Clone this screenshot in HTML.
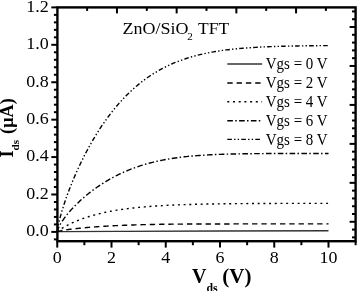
<!DOCTYPE html>
<html><head><meta charset="utf-8"><style>
html,body{margin:0;padding:0;background:#fff;}
body{width:357px;height:291px;overflow:hidden;}
svg{display:block;will-change:transform;font-family:"Liberation Serif",serif;}
</style></head><body>
<svg width="357" height="291" viewBox="0 0 357 291">
<rect width="357" height="291" fill="#fff"/>
<rect x="57.4" y="7.4" width="298.20000000000005" height="233.79999999999998" fill="none" stroke="#000" stroke-width="2.4"/>
<line x1="53.90" y1="239.38" x2="57.40" y2="239.38" stroke="#000" stroke-width="2.0"/>
<line x1="51.30" y1="231.90" x2="57.40" y2="231.90" stroke="#000" stroke-width="2.0"/>
<line x1="53.90" y1="224.42" x2="57.40" y2="224.42" stroke="#000" stroke-width="2.0"/>
<line x1="53.90" y1="216.93" x2="57.40" y2="216.93" stroke="#000" stroke-width="2.0"/>
<line x1="53.90" y1="209.45" x2="57.40" y2="209.45" stroke="#000" stroke-width="2.0"/>
<line x1="53.90" y1="201.97" x2="57.40" y2="201.97" stroke="#000" stroke-width="2.0"/>
<line x1="51.30" y1="194.48" x2="57.40" y2="194.48" stroke="#000" stroke-width="2.0"/>
<line x1="53.90" y1="187.00" x2="57.40" y2="187.00" stroke="#000" stroke-width="2.0"/>
<line x1="53.90" y1="179.52" x2="57.40" y2="179.52" stroke="#000" stroke-width="2.0"/>
<line x1="53.90" y1="172.03" x2="57.40" y2="172.03" stroke="#000" stroke-width="2.0"/>
<line x1="53.90" y1="164.55" x2="57.40" y2="164.55" stroke="#000" stroke-width="2.0"/>
<line x1="51.30" y1="157.07" x2="57.40" y2="157.07" stroke="#000" stroke-width="2.0"/>
<line x1="53.90" y1="149.58" x2="57.40" y2="149.58" stroke="#000" stroke-width="2.0"/>
<line x1="53.90" y1="142.10" x2="57.40" y2="142.10" stroke="#000" stroke-width="2.0"/>
<line x1="53.90" y1="134.62" x2="57.40" y2="134.62" stroke="#000" stroke-width="2.0"/>
<line x1="53.90" y1="127.14" x2="57.40" y2="127.14" stroke="#000" stroke-width="2.0"/>
<line x1="51.30" y1="119.65" x2="57.40" y2="119.65" stroke="#000" stroke-width="2.0"/>
<line x1="53.90" y1="112.17" x2="57.40" y2="112.17" stroke="#000" stroke-width="2.0"/>
<line x1="53.90" y1="104.69" x2="57.40" y2="104.69" stroke="#000" stroke-width="2.0"/>
<line x1="53.90" y1="97.20" x2="57.40" y2="97.20" stroke="#000" stroke-width="2.0"/>
<line x1="53.90" y1="89.72" x2="57.40" y2="89.72" stroke="#000" stroke-width="2.0"/>
<line x1="51.30" y1="82.24" x2="57.40" y2="82.24" stroke="#000" stroke-width="2.0"/>
<line x1="53.90" y1="74.75" x2="57.40" y2="74.75" stroke="#000" stroke-width="2.0"/>
<line x1="53.90" y1="67.27" x2="57.40" y2="67.27" stroke="#000" stroke-width="2.0"/>
<line x1="53.90" y1="59.79" x2="57.40" y2="59.79" stroke="#000" stroke-width="2.0"/>
<line x1="53.90" y1="52.30" x2="57.40" y2="52.30" stroke="#000" stroke-width="2.0"/>
<line x1="51.30" y1="44.82" x2="57.40" y2="44.82" stroke="#000" stroke-width="2.0"/>
<line x1="53.90" y1="37.34" x2="57.40" y2="37.34" stroke="#000" stroke-width="2.0"/>
<line x1="53.90" y1="29.85" x2="57.40" y2="29.85" stroke="#000" stroke-width="2.0"/>
<line x1="53.90" y1="22.37" x2="57.40" y2="22.37" stroke="#000" stroke-width="2.0"/>
<line x1="53.90" y1="14.89" x2="57.40" y2="14.89" stroke="#000" stroke-width="2.0"/>
<line x1="51.30" y1="7.40" x2="57.40" y2="7.40" stroke="#000" stroke-width="2.0"/>
<line x1="57.25" y1="241.20" x2="57.25" y2="247.60" stroke="#000" stroke-width="2.0"/>
<line x1="84.38" y1="241.20" x2="84.38" y2="245.20" stroke="#000" stroke-width="2.0"/>
<line x1="111.50" y1="241.20" x2="111.50" y2="247.60" stroke="#000" stroke-width="2.0"/>
<line x1="138.62" y1="241.20" x2="138.62" y2="245.20" stroke="#000" stroke-width="2.0"/>
<line x1="165.75" y1="241.20" x2="165.75" y2="247.60" stroke="#000" stroke-width="2.0"/>
<line x1="192.88" y1="241.20" x2="192.88" y2="245.20" stroke="#000" stroke-width="2.0"/>
<line x1="220.00" y1="241.20" x2="220.00" y2="247.60" stroke="#000" stroke-width="2.0"/>
<line x1="247.12" y1="241.20" x2="247.12" y2="245.20" stroke="#000" stroke-width="2.0"/>
<line x1="274.25" y1="241.20" x2="274.25" y2="247.60" stroke="#000" stroke-width="2.0"/>
<line x1="301.38" y1="241.20" x2="301.38" y2="245.20" stroke="#000" stroke-width="2.0"/>
<line x1="328.50" y1="241.20" x2="328.50" y2="247.60" stroke="#000" stroke-width="2.0"/>
<line x1="355.62" y1="241.20" x2="355.62" y2="245.20" stroke="#000" stroke-width="2.0"/>
<line x1="87.10" y1="7.40" x2="87.10" y2="10.90" stroke="#000" stroke-width="2.0"/>
<line x1="116.95" y1="7.40" x2="116.95" y2="13.40" stroke="#000" stroke-width="2.0"/>
<line x1="146.80" y1="7.40" x2="146.80" y2="10.90" stroke="#000" stroke-width="2.0"/>
<line x1="176.65" y1="7.40" x2="176.65" y2="13.40" stroke="#000" stroke-width="2.0"/>
<line x1="206.50" y1="7.40" x2="206.50" y2="10.90" stroke="#000" stroke-width="2.0"/>
<line x1="236.35" y1="7.40" x2="236.35" y2="13.40" stroke="#000" stroke-width="2.0"/>
<line x1="266.20" y1="7.40" x2="266.20" y2="10.90" stroke="#000" stroke-width="2.0"/>
<line x1="296.05" y1="7.40" x2="296.05" y2="13.40" stroke="#000" stroke-width="2.0"/>
<line x1="325.90" y1="7.40" x2="325.90" y2="10.90" stroke="#000" stroke-width="2.0"/>
<line x1="355.60" y1="11.42" x2="352.00" y2="11.42" stroke="#000" stroke-width="2.0"/>
<line x1="355.60" y1="19.21" x2="352.00" y2="19.21" stroke="#000" stroke-width="2.0"/>
<line x1="355.60" y1="27.00" x2="349.60" y2="27.00" stroke="#000" stroke-width="2.0"/>
<line x1="355.60" y1="34.79" x2="352.00" y2="34.79" stroke="#000" stroke-width="2.0"/>
<line x1="355.60" y1="42.58" x2="352.00" y2="42.58" stroke="#000" stroke-width="2.0"/>
<line x1="355.60" y1="50.38" x2="352.00" y2="50.38" stroke="#000" stroke-width="2.0"/>
<line x1="355.60" y1="58.17" x2="352.00" y2="58.17" stroke="#000" stroke-width="2.0"/>
<line x1="355.60" y1="65.96" x2="349.60" y2="65.96" stroke="#000" stroke-width="2.0"/>
<line x1="355.60" y1="73.75" x2="352.00" y2="73.75" stroke="#000" stroke-width="2.0"/>
<line x1="355.60" y1="81.54" x2="352.00" y2="81.54" stroke="#000" stroke-width="2.0"/>
<line x1="355.60" y1="89.34" x2="352.00" y2="89.34" stroke="#000" stroke-width="2.0"/>
<line x1="355.60" y1="97.13" x2="352.00" y2="97.13" stroke="#000" stroke-width="2.0"/>
<line x1="355.60" y1="104.92" x2="349.60" y2="104.92" stroke="#000" stroke-width="2.0"/>
<line x1="355.60" y1="112.71" x2="352.00" y2="112.71" stroke="#000" stroke-width="2.0"/>
<line x1="355.60" y1="120.50" x2="352.00" y2="120.50" stroke="#000" stroke-width="2.0"/>
<line x1="355.60" y1="128.30" x2="352.00" y2="128.30" stroke="#000" stroke-width="2.0"/>
<line x1="355.60" y1="136.09" x2="352.00" y2="136.09" stroke="#000" stroke-width="2.0"/>
<line x1="355.60" y1="143.88" x2="349.60" y2="143.88" stroke="#000" stroke-width="2.0"/>
<line x1="355.60" y1="151.67" x2="352.00" y2="151.67" stroke="#000" stroke-width="2.0"/>
<line x1="355.60" y1="159.46" x2="352.00" y2="159.46" stroke="#000" stroke-width="2.0"/>
<line x1="355.60" y1="167.26" x2="352.00" y2="167.26" stroke="#000" stroke-width="2.0"/>
<line x1="355.60" y1="175.05" x2="352.00" y2="175.05" stroke="#000" stroke-width="2.0"/>
<line x1="355.60" y1="182.84" x2="349.60" y2="182.84" stroke="#000" stroke-width="2.0"/>
<line x1="355.60" y1="190.63" x2="352.00" y2="190.63" stroke="#000" stroke-width="2.0"/>
<line x1="355.60" y1="198.42" x2="352.00" y2="198.42" stroke="#000" stroke-width="2.0"/>
<line x1="355.60" y1="206.22" x2="352.00" y2="206.22" stroke="#000" stroke-width="2.0"/>
<line x1="355.60" y1="214.01" x2="352.00" y2="214.01" stroke="#000" stroke-width="2.0"/>
<line x1="355.60" y1="221.80" x2="349.60" y2="221.80" stroke="#000" stroke-width="2.0"/>
<line x1="355.60" y1="229.59" x2="352.00" y2="229.59" stroke="#000" stroke-width="2.0"/>
<line x1="355.60" y1="237.38" x2="352.00" y2="237.38" stroke="#000" stroke-width="2.0"/>
<text transform="translate(48.7,236.20) scale(1.085,1)" text-anchor="end" font-size="16.6">0.0</text>
<text transform="translate(48.7,198.78) scale(1.085,1)" text-anchor="end" font-size="16.6">0.2</text>
<text transform="translate(48.7,161.37) scale(1.085,1)" text-anchor="end" font-size="16.6">0.4</text>
<text transform="translate(48.7,123.95) scale(1.085,1)" text-anchor="end" font-size="16.6">0.6</text>
<text transform="translate(48.7,86.54) scale(1.085,1)" text-anchor="end" font-size="16.6">0.8</text>
<text transform="translate(48.7,49.12) scale(1.085,1)" text-anchor="end" font-size="16.6">1.0</text>
<text transform="translate(48.7,11.70) scale(1.085,1)" text-anchor="end" font-size="16.6">1.2</text>
<text transform="translate(57.25,263.2) scale(1.1,1)" text-anchor="middle" font-size="16.3">0</text>
<text transform="translate(111.50,263.2) scale(1.1,1)" text-anchor="middle" font-size="16.3">2</text>
<text transform="translate(165.75,263.2) scale(1.1,1)" text-anchor="middle" font-size="16.3">4</text>
<text transform="translate(220.00,263.2) scale(1.1,1)" text-anchor="middle" font-size="16.3">6</text>
<text transform="translate(274.25,263.2) scale(1.1,1)" text-anchor="middle" font-size="16.3">8</text>
<text transform="translate(328.50,263.2) scale(1.1,1)" text-anchor="middle" font-size="16.3">10</text>
<path d="M57.25,231.90 L60.00,231.65 L120.00,231.40 L220.00,231.00 L328.50,230.75" fill="none" stroke="#333" stroke-width="1.4" />
<path d="M57.25,231.90 L57.52,231.69 L57.79,231.57 L58.06,231.47 L58.34,231.38 L58.61,231.30 L58.88,231.22 L59.15,231.15 L59.42,231.08 L59.69,231.02 L59.96,230.95 L60.23,230.89 L60.51,230.83 L60.78,230.78 L61.05,230.72 L61.32,230.67 L61.59,230.61 L61.86,230.56 L62.13,230.51 L62.40,230.46 L62.67,230.41 L63.50,230.27 L64.33,230.13 L65.16,230.00 L65.99,229.87 L66.81,229.75 L67.64,229.63 L68.47,229.52 L69.30,229.41 L70.12,229.30 L70.95,229.20 L71.78,229.09 L72.61,228.99 L73.43,228.89 L74.26,228.80 L75.09,228.70 L75.92,228.61 L76.74,228.52 L77.57,228.43 L78.40,228.35 L79.23,228.26 L80.05,228.18 L80.88,228.09 L81.71,228.01 L82.54,227.93 L83.36,227.86 L84.19,227.78 L85.02,227.70 L85.85,227.63 L86.67,227.56 L87.50,227.49 L88.33,227.42 L89.16,227.35 L89.98,227.28 L90.81,227.21 L91.64,227.15 L92.47,227.08 L93.29,227.02 L94.12,226.95 L94.95,226.89 L95.78,226.83 L96.60,226.77 L97.43,226.71 L98.26,226.66 L99.09,226.60 L99.91,226.54 L100.74,226.49 L101.57,226.43 L102.40,226.38 L103.22,226.33 L104.05,226.28 L104.88,226.23 L105.71,226.18 L106.53,226.13 L107.36,226.08 L108.19,226.03 L109.02,225.99 L109.84,225.94 L110.67,225.89 L111.50,225.85 L113.32,225.76 L115.15,225.66 L116.97,225.58 L118.79,225.49 L120.62,225.41 L122.44,225.33 L124.26,225.26 L126.09,225.19 L127.91,225.12 L129.74,225.06 L131.56,224.99 L133.38,224.93 L135.21,224.88 L137.03,224.82 L138.85,224.77 L140.68,224.72 L142.50,224.67 L144.32,224.63 L146.15,224.58 L147.97,224.54 L149.79,224.50 L151.62,224.47 L153.44,224.43 L155.26,224.40 L157.09,224.37 L158.91,224.34 L160.74,224.31 L162.56,224.28 L164.38,224.26 L166.21,224.24 L168.03,224.21 L169.85,224.19 L171.68,224.17 L173.50,224.15 L175.32,224.14 L177.15,224.12 L178.97,224.10 L180.79,224.09 L182.62,224.08 L184.44,224.06 L186.26,224.05 L188.09,224.04 L189.91,224.03 L191.74,224.02 L193.56,224.01 L195.38,224.01 L197.21,224.00 L199.03,223.99 L200.85,223.98 L202.68,223.98 L204.50,223.97 L206.32,223.97 L208.15,223.96 L209.97,223.96 L211.79,223.95 L213.62,223.95 L215.44,223.95 L217.26,223.94 L219.09,223.94 L220.91,223.94 L222.74,223.94 L224.56,223.93 L226.38,223.93 L228.21,223.93 L230.03,223.93 L231.85,223.93 L233.68,223.92 L235.50,223.92 L237.32,223.92 L239.15,223.92 L240.97,223.92 L242.79,223.92 L244.62,223.92 L246.44,223.92 L248.26,223.92 L250.09,223.92 L251.91,223.92 L253.74,223.92 L255.56,223.92 L257.38,223.91 L259.21,223.91 L261.03,223.91 L262.85,223.91 L264.68,223.91 L266.50,223.91 L268.32,223.91 L270.15,223.91 L271.97,223.91 L273.79,223.91 L275.62,223.91 L277.44,223.91 L279.26,223.91 L281.09,223.91 L282.91,223.91 L284.74,223.91 L286.56,223.91 L288.38,223.91 L290.21,223.91 L292.03,223.91 L293.85,223.91 L295.68,223.91 L297.50,223.91 L299.32,223.91 L301.15,223.91 L302.97,223.91 L304.79,223.91 L306.62,223.91 L308.44,223.91 L310.26,223.91 L312.09,223.91 L313.91,223.91 L315.74,223.91 L317.56,223.91 L319.38,223.91 L321.21,223.91 L323.03,223.91 L324.85,223.91 L326.68,223.91 L328.50,223.91" fill="none" stroke="#000" stroke-width="1.4" stroke-dasharray="5.4 3.9"/>
<path d="M57.25,231.90 L57.52,231.61 L57.79,231.36 L58.06,231.13 L58.34,230.91 L58.61,230.70 L58.88,230.49 L59.15,230.29 L59.42,230.09 L59.69,229.90 L59.96,229.71 L60.23,229.52 L60.51,229.33 L60.78,229.15 L61.05,228.97 L61.32,228.80 L61.59,228.62 L61.86,228.45 L62.13,228.28 L62.40,228.11 L62.67,227.94 L63.50,227.44 L64.33,226.95 L65.16,226.48 L65.99,226.02 L66.81,225.57 L67.64,225.14 L68.47,224.71 L69.30,224.29 L70.12,223.88 L70.95,223.48 L71.78,223.09 L72.61,222.71 L73.43,222.34 L74.26,221.97 L75.09,221.61 L75.92,221.26 L76.74,220.92 L77.57,220.58 L78.40,220.25 L79.23,219.93 L80.05,219.61 L80.88,219.30 L81.71,218.99 L82.54,218.69 L83.36,218.40 L84.19,218.11 L85.02,217.83 L85.85,217.55 L86.67,217.28 L87.50,217.01 L88.33,216.75 L89.16,216.49 L89.98,216.24 L90.81,215.99 L91.64,215.75 L92.47,215.51 L93.29,215.28 L94.12,215.05 L94.95,214.83 L95.78,214.61 L96.60,214.39 L97.43,214.18 L98.26,213.97 L99.09,213.77 L99.91,213.57 L100.74,213.37 L101.57,213.18 L102.40,212.99 L103.22,212.80 L104.05,212.62 L104.88,212.44 L105.71,212.27 L106.53,212.09 L107.36,211.92 L108.19,211.76 L109.02,211.60 L109.84,211.44 L110.67,211.28 L111.50,211.13 L113.32,210.80 L115.15,210.48 L116.97,210.18 L118.79,209.89 L120.62,209.61 L122.44,209.34 L124.26,209.09 L126.09,208.84 L127.91,208.61 L129.74,208.38 L131.56,208.16 L133.38,207.96 L135.21,207.76 L137.03,207.57 L138.85,207.39 L140.68,207.21 L142.50,207.04 L144.32,206.88 L146.15,206.73 L147.97,206.58 L149.79,206.44 L151.62,206.30 L153.44,206.17 L155.26,206.05 L157.09,205.93 L158.91,205.81 L160.74,205.70 L162.56,205.60 L164.38,205.50 L166.21,205.40 L168.03,205.31 L169.85,205.22 L171.68,205.14 L173.50,205.06 L175.32,204.98 L177.15,204.91 L178.97,204.84 L180.79,204.77 L182.62,204.70 L184.44,204.64 L186.26,204.58 L188.09,204.52 L189.91,204.47 L191.74,204.42 L193.56,204.37 L195.38,204.32 L197.21,204.27 L199.03,204.23 L200.85,204.19 L202.68,204.15 L204.50,204.11 L206.32,204.07 L208.15,204.04 L209.97,204.01 L211.79,203.97 L213.62,203.94 L215.44,203.91 L217.26,203.89 L219.09,203.86 L220.91,203.83 L222.74,203.81 L224.56,203.79 L226.38,203.76 L228.21,203.74 L230.03,203.72 L231.85,203.70 L233.68,203.69 L235.50,203.67 L237.32,203.65 L239.15,203.63 L240.97,203.62 L242.79,203.60 L244.62,203.59 L246.44,203.58 L248.26,203.56 L250.09,203.55 L251.91,203.54 L253.74,203.53 L255.56,203.52 L257.38,203.51 L259.21,203.50 L261.03,203.49 L262.85,203.48 L264.68,203.47 L266.50,203.46 L268.32,203.46 L270.15,203.45 L271.97,203.44 L273.79,203.43 L275.62,203.43 L277.44,203.42 L279.26,203.42 L281.09,203.41 L282.91,203.40 L284.74,203.40 L286.56,203.39 L288.38,203.39 L290.21,203.39 L292.03,203.38 L293.85,203.38 L295.68,203.37 L297.50,203.37 L299.32,203.37 L301.15,203.36 L302.97,203.36 L304.79,203.36 L306.62,203.35 L308.44,203.35 L310.26,203.35 L312.09,203.35 L313.91,203.34 L315.74,203.34 L317.56,203.34 L319.38,203.34 L321.21,203.34 L323.03,203.33 L324.85,203.33 L326.68,203.33 L328.50,203.33" fill="none" stroke="#000" stroke-width="1.4" stroke-dasharray="2 3.7"/>
<path d="M57.25,231.90 L57.52,230.55 L57.79,229.69 L58.06,228.95 L58.34,228.27 L58.61,227.65 L58.88,227.06 L59.15,226.50 L59.42,225.97 L59.69,225.45 L59.96,224.95 L60.23,224.46 L60.51,223.98 L60.78,223.52 L61.05,223.07 L61.32,222.62 L61.59,222.19 L61.86,221.76 L62.13,221.34 L62.40,220.93 L62.67,220.52 L63.50,219.32 L64.33,218.16 L65.16,217.05 L65.99,215.97 L66.81,214.92 L67.64,213.89 L68.47,212.90 L69.30,211.93 L70.12,210.97 L70.95,210.04 L71.78,209.13 L72.61,208.24 L73.43,207.36 L74.26,206.50 L75.09,205.65 L75.92,204.82 L76.74,204.00 L77.57,203.19 L78.40,202.40 L79.23,201.62 L80.05,200.85 L80.88,200.09 L81.71,199.34 L82.54,198.61 L83.36,197.88 L84.19,197.16 L85.02,196.46 L85.85,195.76 L86.67,195.08 L87.50,194.40 L88.33,193.73 L89.16,193.07 L89.98,192.42 L90.81,191.78 L91.64,191.15 L92.47,190.53 L93.29,189.91 L94.12,189.30 L94.95,188.70 L95.78,188.11 L96.60,187.53 L97.43,186.95 L98.26,186.38 L99.09,185.82 L99.91,185.26 L100.74,184.72 L101.57,184.18 L102.40,183.64 L103.22,183.12 L104.05,182.60 L104.88,182.09 L105.71,181.58 L106.53,181.09 L107.36,180.59 L108.19,180.11 L109.02,179.63 L109.84,179.16 L110.67,178.69 L111.50,178.24 L113.32,177.25 L115.15,176.29 L116.97,175.36 L118.79,174.46 L120.62,173.59 L122.44,172.74 L124.26,171.93 L126.09,171.13 L127.91,170.37 L129.74,169.63 L131.56,168.92 L133.38,168.23 L135.21,167.56 L137.03,166.92 L138.85,166.30 L140.68,165.70 L142.50,165.13 L144.32,164.58 L146.15,164.04 L147.97,163.53 L149.79,163.04 L151.62,162.57 L153.44,162.11 L155.26,161.67 L157.09,161.26 L158.91,160.86 L160.74,160.47 L162.56,160.10 L164.38,159.75 L166.21,159.41 L168.03,159.09 L169.85,158.78 L171.68,158.49 L173.50,158.21 L175.32,157.94 L177.15,157.69 L178.97,157.45 L180.79,157.21 L182.62,157.00 L184.44,156.79 L186.26,156.59 L188.09,156.40 L189.91,156.22 L191.74,156.05 L193.56,155.89 L195.38,155.74 L197.21,155.60 L199.03,155.46 L200.85,155.33 L202.68,155.21 L204.50,155.10 L206.32,154.99 L208.15,154.89 L209.97,154.79 L211.79,154.70 L213.62,154.62 L215.44,154.54 L217.26,154.46 L219.09,154.39 L220.91,154.33 L222.74,154.26 L224.56,154.21 L226.38,154.15 L228.21,154.10 L230.03,154.05 L231.85,154.01 L233.68,153.97 L235.50,153.93 L237.32,153.89 L239.15,153.86 L240.97,153.83 L242.79,153.80 L244.62,153.77 L246.44,153.75 L248.26,153.73 L250.09,153.70 L251.91,153.68 L253.74,153.67 L255.56,153.65 L257.38,153.63 L259.21,153.62 L261.03,153.61 L262.85,153.59 L264.68,153.58 L266.50,153.57 L268.32,153.56 L270.15,153.55 L271.97,153.54 L273.79,153.54 L275.62,153.53 L277.44,153.52 L279.26,153.52 L281.09,153.51 L282.91,153.51 L284.74,153.50 L286.56,153.50 L288.38,153.49 L290.21,153.49 L292.03,153.49 L293.85,153.49 L295.68,153.48 L297.50,153.48 L299.32,153.48 L301.15,153.48 L302.97,153.47 L304.79,153.47 L306.62,153.47 L308.44,153.47 L310.26,153.47 L312.09,153.47 L313.91,153.47 L315.74,153.47 L317.56,153.46 L319.38,153.46 L321.21,153.46 L323.03,153.46 L324.85,153.46 L326.68,153.46 L328.50,153.46" fill="none" stroke="#000" stroke-width="1.4" stroke-dasharray="5.6 2.3 1.5 2.4"/>
<path d="M57.25,231.90 L57.52,229.50 L57.79,227.84 L58.06,226.37 L58.34,225.02 L58.61,223.75 L58.88,222.54 L59.15,221.38 L59.42,220.26 L59.69,219.17 L59.96,218.11 L60.23,217.08 L60.51,216.07 L60.78,215.08 L61.05,214.11 L61.32,213.15 L61.59,212.21 L61.86,211.29 L62.13,210.38 L62.40,209.48 L62.67,208.60 L63.50,205.97 L64.33,203.42 L65.16,200.96 L65.99,198.56 L66.81,196.22 L67.64,193.94 L68.47,191.72 L69.30,189.53 L70.12,187.40 L70.95,185.30 L71.78,183.24 L72.61,181.22 L73.43,179.24 L74.26,177.29 L75.09,175.37 L75.92,173.48 L76.74,171.62 L77.57,169.78 L78.40,167.98 L79.23,166.20 L80.05,164.45 L80.88,162.72 L81.71,161.02 L82.54,159.34 L83.36,157.68 L84.19,156.05 L85.02,154.43 L85.85,152.84 L86.67,151.27 L87.50,149.72 L88.33,148.19 L89.16,146.68 L89.98,145.20 L90.81,143.73 L91.64,142.27 L92.47,140.84 L93.29,139.43 L94.12,138.03 L94.95,136.65 L95.78,135.29 L96.60,133.95 L97.43,132.62 L98.26,131.31 L99.09,130.02 L99.91,128.74 L100.74,127.48 L101.57,126.23 L102.40,125.00 L103.22,123.79 L104.05,122.59 L104.88,121.41 L105.71,120.24 L106.53,119.09 L107.36,117.95 L108.19,116.82 L109.02,115.71 L109.84,114.62 L110.67,113.54 L111.50,112.47 L113.32,110.17 L115.15,107.93 L116.97,105.75 L118.79,103.64 L120.62,101.59 L122.44,99.60 L124.26,97.66 L126.09,95.79 L127.91,93.97 L129.74,92.20 L131.56,90.49 L133.38,88.83 L135.21,87.22 L137.03,85.66 L138.85,84.14 L140.68,82.68 L142.50,81.26 L144.32,79.89 L146.15,78.56 L147.97,77.27 L149.79,76.03 L151.62,74.83 L153.44,73.66 L155.26,72.54 L157.09,71.45 L158.91,70.40 L160.74,69.39 L162.56,68.41 L164.38,67.46 L166.21,66.55 L168.03,65.67 L169.85,64.83 L171.68,64.01 L173.50,63.22 L175.32,62.46 L177.15,61.73 L178.97,61.03 L180.79,60.35 L182.62,59.70 L184.44,59.07 L186.26,58.47 L188.09,57.89 L189.91,57.33 L191.74,56.79 L193.56,56.28 L195.38,55.79 L197.21,55.31 L199.03,54.86 L200.85,54.42 L202.68,54.00 L204.50,53.60 L206.32,53.21 L208.15,52.85 L209.97,52.49 L211.79,52.15 L213.62,51.83 L215.44,51.52 L217.26,51.22 L219.09,50.94 L220.91,50.67 L222.74,50.41 L224.56,50.16 L226.38,49.93 L228.21,49.70 L230.03,49.48 L231.85,49.28 L233.68,49.08 L235.50,48.90 L237.32,48.72 L239.15,48.55 L240.97,48.38 L242.79,48.23 L244.62,48.08 L246.44,47.94 L248.26,47.81 L250.09,47.68 L251.91,47.56 L253.74,47.45 L255.56,47.34 L257.38,47.24 L259.21,47.14 L261.03,47.04 L262.85,46.95 L264.68,46.87 L266.50,46.79 L268.32,46.71 L270.15,46.64 L271.97,46.57 L273.79,46.51 L275.62,46.45 L277.44,46.39 L279.26,46.34 L281.09,46.28 L282.91,46.24 L284.74,46.19 L286.56,46.14 L288.38,46.10 L290.21,46.06 L292.03,46.03 L293.85,45.99 L295.68,45.96 L297.50,45.93 L299.32,45.90 L301.15,45.87 L302.97,45.84 L304.79,45.82 L306.62,45.80 L308.44,45.77 L310.26,45.75 L312.09,45.73 L313.91,45.71 L315.74,45.70 L317.56,45.68 L319.38,45.67 L321.21,45.65 L323.03,45.64 L324.85,45.63 L326.68,45.61 L328.50,45.60" fill="none" stroke="#000" stroke-width="1.4" stroke-dasharray="4.6 2.2 1.4 2.2 1.4 2.2"/>
<line x1="227.3" y1="63.9" x2="262.1" y2="63.9" stroke="#333" stroke-width="1.5" />
<text transform="translate(265.8,69.10) scale(0.925,1)" font-size="16.2">Vgs = 0 V</text>
<line x1="227.3" y1="83.0" x2="262.1" y2="83.0" stroke="#000" stroke-width="1.4" stroke-dasharray="5.4 3.9"/>
<text transform="translate(265.8,88.20) scale(0.925,1)" font-size="16.2">Vgs = 2 V</text>
<line x1="227.3" y1="101.8" x2="262.1" y2="101.8" stroke="#000" stroke-width="1.4" stroke-dasharray="2 3.7"/>
<text transform="translate(265.8,107.00) scale(0.925,1)" font-size="16.2">Vgs = 4 V</text>
<line x1="227.3" y1="120.7" x2="262.1" y2="120.7" stroke="#000" stroke-width="1.4" stroke-dasharray="5.6 2.3 1.5 2.4"/>
<text transform="translate(265.8,125.90) scale(0.925,1)" font-size="16.2">Vgs = 6 V</text>
<line x1="227.3" y1="139.4" x2="262.1" y2="139.4" stroke="#000" stroke-width="1.4" stroke-dasharray="4.6 2.2 1.4 2.2 1.4 2.2"/>
<text transform="translate(265.8,144.60) scale(0.925,1)" font-size="16.2">Vgs = 8 V</text>
<text transform="translate(122.6,33.7) scale(1.06,1)" font-size="17">ZnO/SiO</text><text x="187.3" y="40.3" font-size="11">2</text><text transform="translate(198.1,33.7) scale(1.03,1)" font-size="17">TFT</text>
<text x="192.1" y="282.5" font-size="20" font-weight="bold">V<tspan font-size="11.8" dy="9.6">ds</tspan><tspan dy="-9.6" font-size="21" dx="-0.6"> (V)</tspan></text>
<text transform="translate(12.9,157.5) rotate(-90)" x="0" y="0" font-size="18.2" font-weight="bold">I<tspan font-size="11" dy="5.9">ds</tspan><tspan dy="-5.9" dx="1.6"> (μA)</tspan></text>
</svg>
</body></html>
